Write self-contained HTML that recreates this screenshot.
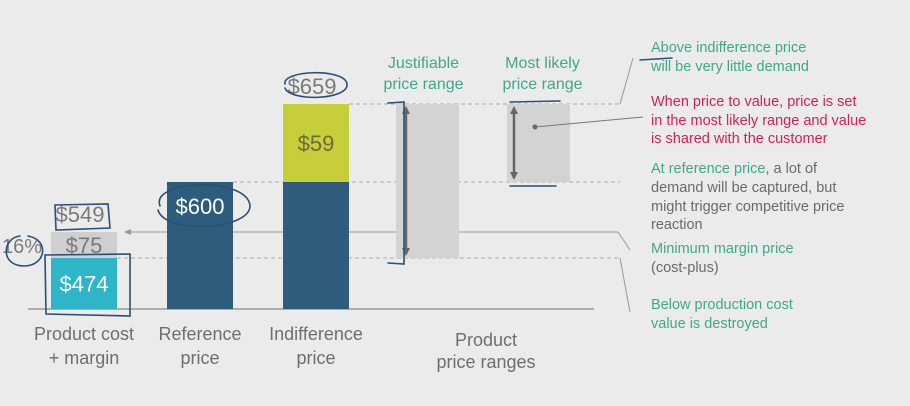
<!DOCTYPE html>
<html><head><meta charset="utf-8">
<style>
html,body{margin:0;padding:0;background:#ebebeb;}
svg{display:block;font-family:"Liberation Sans","DejaVu Sans",sans-serif;}
</style></head>
<body>
<svg id="chart" width="910" height="406" viewBox="0 0 910 406">
<rect x="0" y="0" width="910" height="406" fill="#ebebeb"/>
<g id="guides"></g>
<g id="bars"></g>
<g id="labels"></g>
<g id="notes"></g>
</svg>
<script>
// data
const categories = ["Product cost|+ margin", "Reference|price", "Indifference|price"];
const segStart = [0, 474, 0, 0, 600];
const segEnd = [474, 549, 600, 600, 659];
const segCat = [0, 0, 1, 2, 2];
const segLabel = ["$474", "$75", "$600", "", "$59"];
const totals = ["$549", "", "$659"];
const rangeLow = [474, 600];
const rangeHigh = [659, 659];
const rangeNames = ["Justifiable|price range", "Most likely|price range"];

// axis functions (piecewise, illustration is not to scale)
const yDom = [0, 474, 549, 600, 659];
const yRng = [309, 258, 232, 182, 104];
function y(v){
  for(let i=1;i<yDom.length;i++){
    if(v<=yDom[i]||i===yDom.length-1){
      const t=(v-yDom[i-1])/(yDom[i]-yDom[i-1]);
      return yRng[i-1]+t*(yRng[i]-yRng[i-1]);
    }
  }
}
const catX0 = 51, catStep = 116, barW = 66;
function x(i){return catX0+i*catStep;}
const rangeX0 = 396, rangeStep = 111, rangeW = 63;
function rx(i){return rangeX0+i*rangeStep;}

const NS="http://www.w3.org/2000/svg";
function mk(tag,attrs,parent,text){
  const e=document.createElementNS(NS,tag);
  for(const k in attrs)e.setAttribute(k,attrs[k]);
  if(text!==undefined)e.textContent=text;
  parent.appendChild(e);return e;
}
const G=document.getElementById('guides'),B=document.getElementById('bars'),
L=document.getElementById('labels'),N=document.getElementById('notes');
const colors=["#2fb5c8","#cfcfcf","#2d5c7d","#2d5c7d","#c6cf3a"];
const txtCol=["#ffffff","#7a7a7a","#ffffff","#ffffff","#6b6b3a"];

// guide lines
const d1=mk('line',{x1:349,y1:y(659),x2:620,y2:y(659),stroke:'#aaa','stroke-dasharray':'4 3'},G);

const d2=mk('line',{x1:233,y1:y(600),x2:620,y2:y(600),stroke:'#aaa','stroke-dasharray':'4 3'},G);

const d3=mk('line',{x1:117,y1:y(474),x2:620,y2:y(474),stroke:'#aaa','stroke-dasharray':'4 3'},G);

const d4=mk('line',{x1:130,y1:y(549),x2:618,y2:y(549),stroke:'#999'},G);

const ah=mk('path',{d:`M124 ${y(549)} l7 -3 v6 z`,fill:'#999'},G);

const diag=[[620,y(659),633,58],[618,y(549),630,250],[620,y(474),630,312]];
diag.forEach(function(dd){
  const l=mk('line',{x1:dd[0],y1:dd[1],x2:dd[2],y2:dd[3],stroke:'#999'},G);
  
});
const base=mk('line',{x1:28,y1:309,x2:594,y2:309,stroke:'#999','stroke-width':1.5},G);


// bars
for(let i=0;i<segStart.length;i++){
  const top=y(segEnd[i]),bot=y(segStart[i]);
  const r=mk('rect',{x:x(segCat[i]),y:top,width:barW,height:bot-top,fill:colors[i]},B);
  
  
  if(segLabel[i]){
    const cy = (i===2) ? top+24 : (top+bot)/2;
    const t=mk('text',{x:x(segCat[i])+barW/2,y:cy+8,'text-anchor':'middle','font-size':22,fill:txtCol[i]},B,segLabel[i]);
    
    
  }
}
for(let c=0;c<categories.length;c++){
  const parts=categories[c].split('|');
  parts.forEach(function(p,k){
    const t=mk('text',{x:x(c)+barW/2,y:340+k*24,'text-anchor':'middle','font-size':18,fill:'#6e6e6e'},L,p);
    
    
  });
  if(totals[c]){
    const segTop=Math.max.apply(null,segEnd.filter((v,i)=>segCat[i]===c));
    const t=mk('text',{x:x(c)+barW/2-4,y:y(segTop)-10,'text-anchor':'middle','font-size':22,fill:'#7a7a7a'},L,totals[c]);
    
    
  }
}
const pct=mk('text',{x:22,y:253,'text-anchor':'middle','font-size':20,fill:'#7a7a7a'},L,'16%');


// range boxes
for(let i=0;i<rangeLow.length;i++){
  const top=y(rangeHigh[i]),bot=y(rangeLow[i]);
  const r=mk('rect',{x:rx(i),y:top,width:rangeW,height:bot-top,fill:'#d3d3d3'},B);
  
  
  const ax=rx(i)+(i===0?10:7);
  const a=mk('line',{x1:ax,y1:top+4,x2:ax,y2:bot-4,stroke:'#666','stroke-width':2.5},B);
  
  const h1=mk('path',{d:`M${ax-4} ${top+10} L${ax} ${top+2} L${ax+4} ${top+10}z`,fill:'#666'},B);
  
  const h2=mk('path',{d:`M${ax-4} ${bot-10} L${ax} ${bot-2} L${ax+4} ${bot-10}z`,fill:'#666'},B);
  
  rangeNames[i].split('|').forEach(function(p,k){
    const t=mk('text',{x:rx(i)+rangeW/2+(i===0?-4:4),y:68+k*21,'text-anchor':'middle','font-size':16,fill:'#3ea98a'},L,p);
    
    
  });
}
const dot=mk('circle',{cx:535,cy:127,r:2.5,fill:'#666'},B);

const cl=mk('line',{x1:535,y1:127,x2:643,y2:117,stroke:'#777'},B);

['Product','price ranges'].forEach(function(p,k){
  const t=mk('text',{x:486,y:346+k*22,'text-anchor':'middle','font-size':18,fill:'#6e6e6e'},L,p);
  
});

// annotations
const notes=[
 [52,'#3ea98a','Above indifference price'],[71,'#3ea98a','will be very little demand'],
 [106,'#cf2358','When price to value, price is set'],[125,'#cf2358','in the most likely range and value'],
 [143,'#cf2358','is shared with the customer'],
 [173,null,'At reference price, a lot of'],[192,'#6a6a6a','demand will be captured, but'],
 [211,'#6a6a6a','might trigger competitive price'],[229,'#6a6a6a','reaction'],
 [253,'#3ea98a','Minimum margin price'],[272,'#6a6a6a','(cost-plus)'],
 [309,'#3ea98a','Below production cost'],[328,'#3ea98a','value is destroyed']
];
notes.forEach(function(n){
  const t=mk('text',{x:651,y:n[0],'font-size':14.5,fill:n[1]||'#6a6a6a'},N);
  if(n[1]===null){
    mk('tspan',{fill:'#3ea98a'},t,'At reference price');
    mk('tspan',{fill:'#6a6a6a'},t,', a lot of');
  } else t.textContent=n[2];
  
  
});

// handwritten marks
const hand=[
 'M285 84 C 282 70, 345 68, 347 84 C 349 100, 290 102, 285 88',
 'M160 206 C 150 180, 245 176, 250 205 C 252 230, 165 235, 158 210',
 'M55 205 L 108 204 L 110 228 L 56 230 Z',
 'M20 236 C 2 238, 0 266, 24 266 C 46 266, 50 240, 28 236',
 'M45 255 L 130 254 L 130 316 L 46 314 Z',
 'M388 103 L 404 102 L 404 264 L 388 263',
 'M510 102 L 560 101 M 510 186 L 556 186',
 'M640 60 L 672 58'
];
hand.forEach(function(d){
  const p=mk('path',{d:d,fill:'none',stroke:'#2a4f78','stroke-width':1.6,'stroke-linecap':'round'},N);
  
  
});
</script>
</body></html>
